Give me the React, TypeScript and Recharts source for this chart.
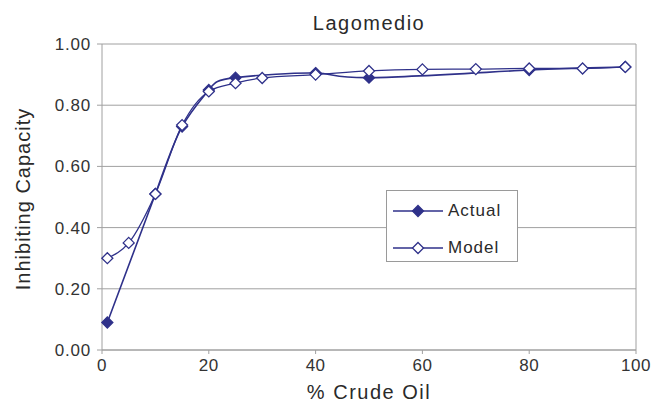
import React from 'react';
import {
  LineChart,
  Line,
  XAxis,
  YAxis,
  CartesianGrid,
  ReferenceLine,
} from 'recharts';

// % crude oil vs inhibiting capacity
const actualX = [1, 10, 15, 20, 25, 40, 50, 80, 98];
const actualY = [0.09, 0.51, 0.73, 0.85, 0.89, 0.905, 0.89, 0.915, 0.925];

const modelX = [1, 5, 10, 15, 20, 25, 30, 40, 50, 60, 70, 80, 90, 98];
const modelY = [0.3, 0.35, 0.51, 0.735, 0.845, 0.872, 0.889, 0.9, 0.912, 0.917, 0.918, 0.92, 0.92, 0.925];

const xTicks = [0, 20, 40, 60, 80, 100];
const yTicks = [0, 0.2, 0.4, 0.6, 0.8, 1.0];

const actualData = actualX.map((x, i) => ({ x, y: actualY[i] }));
const modelData = modelX.map((x, i) => ({ x, y: modelY[i] }));

const NAVY = '#2f318a';
const GRID = '#a0a0a0';
const FONT = '"Liberation Sans", Arial, sans-serif';

const Diamond = ({ cx, cy, filled }: { cx: number; cy: number; filled: boolean }) => {
  const s = 5.5;
  return (
    <polygon
      points={`${cx},${cy - s} ${cx + s},${cy} ${cx},${cy + s} ${cx - s},${cy}`}
      fill={filled ? NAVY : '#fff'}
      stroke={NAVY}
      strokeWidth={1.3}
    />
  );
};

const labelStyle: React.CSSProperties = {
  position: 'absolute',
  fontFamily: FONT,
  color: '#2a2a2a',
  whiteSpace: 'nowrap',
};

const LegendBox = () => (
  <div
    style={{
      position: 'absolute',
      left: 386,
      top: 190,
      width: 132,
      height: 72,
      border: '1px solid #9a9a9a',
      background: '#fff',
      boxSizing: 'border-box',
    }}
  >
    {[
      { name: 'Actual', filled: true, cy: 20 },
      { name: 'Model', filled: false, cy: 57 },
    ].map((it) => (
      <div key={it.name}>
        <svg width={52} height={14} style={{ position: 'absolute', left: 5, top: it.cy - 7 }}>
          <line x1={1} y1={7} x2={51} y2={7} stroke={NAVY} strokeWidth={1.5} />
          <Diamond cx={26} cy={7} filled={it.filled} />
        </svg>
        <span
          style={{
            ...labelStyle,
            left: 61,
            top: it.cy - 10,
            lineHeight: '20px',
            fontSize: 17,
            letterSpacing: 1,
          }}
        >
          {it.name}
        </span>
      </div>
    ))}
  </div>
);

export default function App() {
  return (
    <div style={{ position: 'absolute', left: 0, top: 0, width: 656, height: 406, background: '#fff' }}>
      <LineChart
        width={656}
        height={406}
        margin={{ top: 44, right: 20, bottom: 26, left: 32 }}
      >
        <CartesianGrid horizontal vertical={false} stroke={GRID} strokeWidth={1} />
        <XAxis
          type="number"
          dataKey="x"
          domain={[0, 100]}
          ticks={xTicks}
          allowDuplicatedCategory={false}
          stroke={GRID}
          tickSize={4}
          tickMargin={5}
          height={30}
          tick={{ fontSize: 17, fill: '#333', fontFamily: FONT, letterSpacing: 0.5 }}
        />
        <YAxis
          type="number"
          dataKey="y"
          domain={[0, 1]}
          ticks={yTicks}
          width={70}
          stroke={GRID}
          tickSize={5}
          tickMargin={6}
          tickFormatter={(v: number) => v.toFixed(2)}
          tick={{ fontSize: 17, fill: '#333', fontFamily: FONT, letterSpacing: 0.8 }}
        />
        <ReferenceLine x={100} stroke={GRID} />
        <Line
          data={actualData}
          dataKey="y"
          type="natural"
          stroke={NAVY}
          strokeWidth={1.6}
          dot={(p: any) => <Diamond key={`a${p.index}`} cx={p.cx} cy={p.cy} filled />}
          isAnimationActive={false}
        />
        <Line
          data={modelData}
          dataKey="y"
          type="monotone"
          stroke={NAVY}
          strokeWidth={1.3}
          dot={(p: any) => <Diamond key={`m${p.index}`} cx={p.cx} cy={p.cy} filled={false} />}
          isAnimationActive={false}
        />
      </LineChart>
      <div
        style={{
          ...labelStyle,
          left: 102,
          width: 534,
          top: 12,
          textAlign: 'center',
          fontSize: 20,
          letterSpacing: 1.5,
        }}
      >
        Lagomedio
      </div>
      <div
        style={{
          ...labelStyle,
          left: 102,
          width: 534,
          top: 381,
          textAlign: 'center',
          fontSize: 20,
          letterSpacing: 1.5,
        }}
      >
        % Crude Oil
      </div>
      <div
        style={{
          ...labelStyle,
          left: 23,
          top: 199,
          transform: 'translate(-50%, -50%) rotate(-90deg)',
          fontSize: 20,
          letterSpacing: 1,
        }}
      >
        Inhibiting Capacity
      </div>
      <LegendBox />
    </div>
  );
}
